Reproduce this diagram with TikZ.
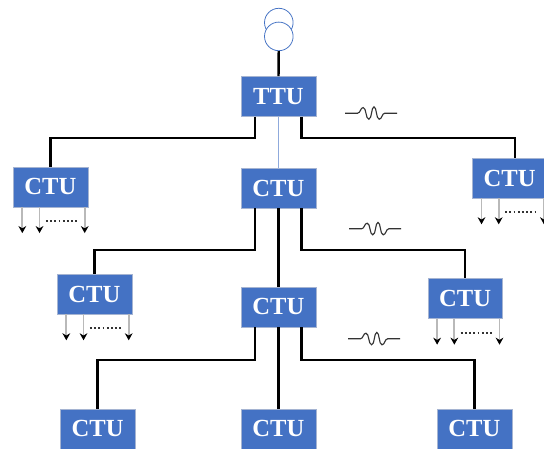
\documentclass[tikz,border=0pt]{standalone}
\usepackage{fontspec}
\setmainfont{Liberation Serif}
\usetikzlibrary{arrows.meta, positioning, calc}
\definecolor{unitblue}{RGB}{68, 114, 196}
\definecolor{unitedge}{RGB}{165, 180, 210}
\definecolor{tapgray}{RGB}{185, 185, 185}
\definecolor{coilblue}{RGB}{68, 114, 196}
\tikzset{
  unit/.style={rectangle, draw=unitedge, fill=unitblue, minimum width=1.87cm, minimum height=1.0cm, inner sep=0pt, text=white, font=\fontsize{17.5}{20}\selectfont\bfseries},
  coil/.style={circle, draw=coilblue, line width=0.55pt, fill=white, minimum size=0.715cm, inner sep=0pt},
  wire/.style={line width=1.7pt, black},
  thinwire/.style={line width=0.8pt, unitblue!60},
  tap/.style={-{Stealth[length=5pt, width=5.5pt, black]}, line width=1.3pt, tapgray},
  gap/.style={line width=1.3pt, black!80, dash pattern=on 1.3pt off 1.7pt},
  ripple/.pic={
    \draw[line width=0.8pt, black!80] (-0.65,0) -- (-0.34,0)
      .. controls (-0.27,0) and (-0.27,0.14) .. (-0.2,0.14)
      .. controls (-0.12,0.14) and (-0.14,-0.15) .. (-0.06,-0.15)
      .. controls (0.02,-0.15) and (0,0.16) .. (0.07,0.16)
      .. controls (0.14,0.16) and (0.12,-0.15) .. (0.2,-0.15)
      .. controls (0.27,-0.15) and (0.27,0) .. (0.34,0) -- (0.65,0);
  }
}
\begin{document}
\begin{tikzpicture}
  \useasboundingbox (0,0) rectangle (13.6,-11.2);

  \node[coil] (X1) at (6.97,-0.565) {};
  \node[coil] (X2) at (6.97,-0.91) {};

  \node[unit] (T) at (6.96,-2.41) {TTU};
  \node[unit] (A) at (1.26,-4.67) {CTU};
  \node[unit] (B) at (6.96,-4.7) {CTU};
  \node[unit] (D) at (12.74,-4.45) {CTU};
  \node[unit] (E) at (2.36,-7.35) {CTU};
  \node[unit] (F) at (6.96,-7.67) {CTU};
  \node[unit] (G) at (11.63,-7.46) {CTU};
  \node[unit] (H) at (2.44,-10.72) {CTU};
  \node[unit] (J) at (6.96,-10.72) {CTU};
  \node[unit] (K) at (11.86,-10.72) {CTU};

  \draw[wire] (X2) -- (T);
  \draw[thinwire] (T) -- (B);
  \draw[wire] (B) -- (F);
  \draw[wire] (F) -- (J);

  \draw[wire] ([xshift=-0.58cm]T.south) -- ++(0,-0.53) -| (A.north);
  \draw[wire] ([xshift=0.58cm]T.south) -- ++(0,-0.53) -| ([xshift=0.13cm]D.north);
  \draw[wire] ([xshift=-0.58cm]B.south) -- ++(0,-1.05) -| (E.north);
  \draw[wire] ([xshift=0.58cm]B.south) -- ++(0,-1.05) -| (G.north);
  \draw[wire] ([xshift=-0.58cm]F.south) -- ++(0,-0.83) -| (H.north);
  \draw[wire] ([xshift=0.58cm]F.south) -- ++(0,-0.83) -| (K.north);

  \foreach \n in {A,D,E,G}{
    \draw[tap] ([xshift=0.24cm]\n.south west) -- ++(0,-0.65);
    \draw[tap] ([xshift=0.67cm]\n.south west) -- ++(0,-0.65);
    \draw[tap] ([xshift=1.8cm]\n.south west) -- ++(0,-0.65);
    \draw[gap] ($(\n.south west)+(0.83,-0.35)$) -- ++(0.84,0);
  }

  \pic at (9.28,-2.83) {ripple};
  \pic at (9.38,-5.72) {ripple};
  \pic at (9.35,-8.47) {ripple};
\end{tikzpicture}
\end{document}
